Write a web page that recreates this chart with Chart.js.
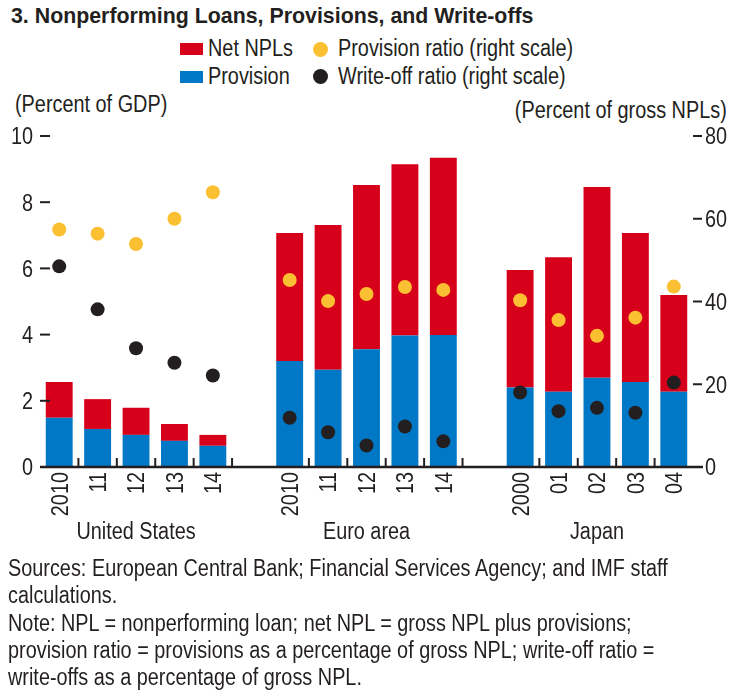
<!DOCTYPE HTML>
<html>
<head>
  <title>Nonperforming Loans, Provisions, and Write-offs</title>
  <script src="https://cdn.jsdelivr.net/npm/chart.js"></script>
  <style>
    body { margin: 0; width: 742px; height: 698px; position: relative; overflow: hidden; background: #fff;
           font-family: "Liberation Sans", Arial, sans-serif; color: #231f20; }
    canvas { position: absolute; left: 0; top: 0; }
    /* the original uses a condensed face; squeeze a regular one */
    .txt { position: absolute; white-space: nowrap; font-size: 23.5px; line-height: 27.3px;
           transform: scaleX(0.845); transform-origin: 0 0; }
    .title { left: 11px; top: 2px; font-weight: bold; font-size: 22px; line-height: 27px; transform: scaleX(0.97); }
    .sw { position: absolute; width: 23px; height: 12px; }
    .dot { position: absolute; width: 15px; height: 15px; border-radius: 50%; }
  </style>
</head>
<body>
  <div class="txt title">3. Nonperforming Loans, Provisions, and Write-offs</div>

  <div class="sw" style="left:180px; top:43px; background:#d7001a;"></div>
  <div class="txt" style="left:208px; top:35px;">Net NPLs</div>
  <div class="dot" style="left:313px; top:42px; background:#fbbf32;"></div>
  <div class="txt" style="left:338px; top:35px;">Provision ratio (right scale)</div>
  <div class="sw" style="left:180px; top:71px; background:#0078c6;"></div>
  <div class="txt" style="left:208px; top:63px;">Provision</div>
  <div class="dot" style="left:313px; top:69px; background:#231f20;"></div>
  <div class="txt" style="left:338px; top:63px;">Write-off ratio (right scale)</div>

  <div class="txt" style="left:15px; top:91px;">(Percent of GDP)</div>
  <div class="txt" style="right:15px; top:97px; transform-origin: 100% 0;">(Percent of gross NPLs)</div>

  <canvas id="chart" width="742" height="698"></canvas>

  <div class="txt" style="left:8px; top:555px;">Sources: European Central Bank; Financial Services Agency; and IMF staff<br>calculations.<br>Note: NPL = nonperforming loan; net NPL = gross NPL plus provisions;<br>provision ratio = provisions as a percentage of gross NPL; write-off ratio =<br>write-offs as a percentage of gross NPL.</div>

  <script>
    // Data
    const groups = ['United States', 'Euro area', 'Japan'];
    const years = [
      ['2010', '11', '12', '13', '14'],
      ['2010', '11', '12', '13', '14'],
      ['2000', '01', '02', '03', '04']
    ];
    // percent of GDP
    const provision = [
      [1.49, 1.15, 0.97, 0.79, 0.64],
      [3.20, 2.94, 3.56, 3.97, 3.99],
      [2.40, 2.27, 2.70, 2.57, 2.27]
    ];
    const netNPLs = [
      [1.08, 0.90, 0.82, 0.51, 0.33],
      [3.87, 4.37, 4.96, 5.18, 5.35],
      [3.55, 4.07, 5.76, 4.50, 2.93]
    ];
    // percent of gross NPLs
    const provisionRatio = [
      [57.4, 56.4, 53.9, 60.0, 66.4],
      [45.2, 40.1, 41.8, 43.5, 42.8],
      [40.3, 35.5, 31.7, 36.1, 43.6]
    ];
    const writeOffRatio = [
      [48.5, 38.1, 28.7, 25.2, 22.1],
      [11.9, 8.4, 5.2, 9.8, 6.2],
      [18.0, 13.5, 14.3, 13.1, 20.4]
    ];
    const leftTicks = [0, 2, 4, 6, 8, 10];
    const rightTicks = [0, 20, 40, 60, 80];

    const RED = '#d7001a', BLUE = '#0078c6', YELLOW = '#fbbf32', INK = '#231f20';
    const FONT = '23.5px "Liberation Sans", Arial, sans-serif';
    const SQUEEZE = 0.845;
    const CAP_HALF = 8.4;

    // flatten groups with one empty slot between them
    function flat(arr, gap) {
      const out = [];
      arr.forEach((g, i) => {
        if (i > 0) out.push(gap);
        g.forEach(v => out.push(v));
      });
      return out;
    }
    const labels = flat(years, '');
    const groupIdx = [];
    let k = 0;
    years.forEach((g, i) => {
      if (i > 0) k++;
      groupIdx.push([k, k + g.length - 1]);
      k += g.length;
    });

    // condensed text on the canvas, centred vertically on y (cap height)
    function narrowText(ctx, text, x, y, align, rotate) {
      ctx.save();
      ctx.translate(x, y);
      if (rotate) ctx.rotate(-Math.PI / 2);
      ctx.scale(SQUEEZE, 1);
      ctx.font = FONT;
      ctx.fillStyle = INK;
      ctx.textAlign = align;
      ctx.textBaseline = 'alphabetic';
      ctx.fillText(text, 0, CAP_HALF);
      ctx.restore();
    }

    const axisPlugin = {
      id: 'axisMarks',
      afterDatasetsDraw(chart) {
        const ctx = chart.ctx, a = chart.chartArea;
        const xs = chart.scales.x, ys = chart.scales.y, y2 = chart.scales.y2;
        const base = ys.getPixelForValue(0);
        ctx.save();
        ctx.strokeStyle = INK;
        ctx.lineWidth = 2;
        leftTicks.forEach(v => {
          const p = ys.getPixelForValue(v);
          ctx.beginPath(); ctx.moveTo(a.left, p); ctx.lineTo(a.left + 10, p); ctx.stroke();
        });
        rightTicks.forEach(v => {
          const p = y2.getPixelForValue(v);
          ctx.beginPath(); ctx.moveTo(a.right, p); ctx.lineTo(a.right + 9, p); ctx.stroke();
        });
        const half = (xs.getPixelForValue(1) - xs.getPixelForValue(0)) / 2;
        labels.forEach((l, i) => {
          if (l === '' || i === labels.length - 1) return;
          const p = xs.getPixelForValue(i) + half;
          ctx.beginPath(); ctx.moveTo(p, base); ctx.lineTo(p, base - 9); ctx.stroke();
        });
        ctx.lineWidth = 2.5;
        ctx.beginPath(); ctx.moveTo(a.left, base); ctx.lineTo(a.right + 10, base); ctx.stroke();
        ctx.restore();
      },
      afterDraw(chart) {
        const ctx = chart.ctx, a = chart.chartArea;
        const xs = chart.scales.x, ys = chart.scales.y, y2 = chart.scales.y2;
        const base = ys.getPixelForValue(0);
        leftTicks.forEach(v => narrowText(ctx, String(v), a.left - 7, ys.getPixelForValue(v), 'right'));
        rightTicks.forEach(v => narrowText(ctx, String(v), a.right + 12, y2.getPixelForValue(v), 'left'));
        labels.forEach((l, i) => {
          if (l !== '') narrowText(ctx, l, xs.getPixelForValue(i), base + 5, 'right', true);
        });
        groups.forEach((g, i) => {
          const c = (xs.getPixelForValue(groupIdx[i][0]) + xs.getPixelForValue(groupIdx[i][1])) / 2;
          narrowText(ctx, g, c, base + 64, 'center');
        });
      }
    };

    new Chart(document.getElementById('chart'), {
      data: {
        labels: labels,
        datasets: [
          { type: 'line', label: 'Provision ratio (right scale)', data: flat(provisionRatio, null),
            yAxisID: 'y2', showLine: false, pointRadius: 7, pointBorderWidth: 0,
            pointBackgroundColor: YELLOW, order: 0 },
          { type: 'line', label: 'Write-off ratio (right scale)', data: flat(writeOffRatio, null),
            yAxisID: 'y2', showLine: false, pointRadius: 7, pointBorderWidth: 0,
            pointBackgroundColor: INK, order: 0 },
          { type: 'bar', label: 'Provision', data: flat(provision, null), backgroundColor: BLUE,
            stack: 's', order: 1 },
          { type: 'bar', label: 'Net NPLs', data: flat(netNPLs, null), backgroundColor: RED,
            stack: 's', order: 1 }
        ]
      },
      options: {
        responsive: false,
        animation: false,
        layout: { padding: { top: 136, left: 0, right: 0, bottom: 0 } },
        datasets: { bar: { barPercentage: 0.7, categoryPercentage: 1 } },
        plugins: { legend: { display: false }, tooltip: { enabled: false } },
        scales: {
          x: {
            stacked: true, offset: true,
            grid: { display: false, drawTicks: false }, border: { display: false },
            ticks: { display: false, autoSkip: false },
            afterFit(s) { s.height = 231; }
          },
          y: {
            position: 'left', stacked: true, min: 0, max: 10,
            grid: { display: false, drawTicks: false }, border: { display: false },
            ticks: { display: false, stepSize: 2 },
            afterFit(s) { s.width = 40; }
          },
          y2: {
            position: 'right', min: 0, max: 80,
            grid: { display: false, drawTicks: false }, border: { display: false },
            ticks: { display: false, stepSize: 20 },
            afterFit(s) { s.width = 49; }
          }
        }
      },
      plugins: [axisPlugin]
    });
  </script>
</body>
</html>
